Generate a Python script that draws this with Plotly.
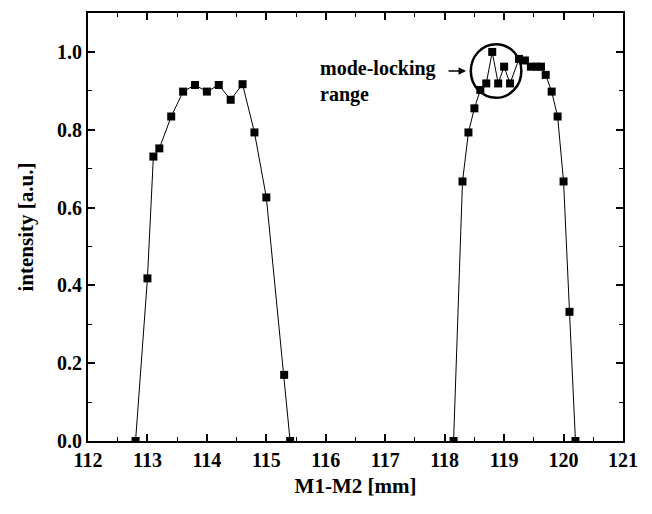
import plotly.graph_objects as go

# Left peak
x_left = [112.8, 113.0, 113.1, 113.2, 113.4, 113.6, 113.8, 114.0, 114.2, 114.4,
          114.6, 114.8, 115.0, 115.3, 115.4]
y_left = [0.0, 0.418, 0.731, 0.752, 0.834, 0.898, 0.915, 0.898, 0.915, 0.877,
          0.917, 0.793, 0.626, 0.170, 0.0]

# Right peak
x_right = [118.15, 118.3, 118.4, 118.5, 118.6, 118.7, 118.8, 118.9, 119.0, 119.1,
           119.25, 119.35, 119.45, 119.55, 119.62, 119.7, 119.8, 119.9, 120.0,
           120.1, 120.2]
y_right = [0.0, 0.667, 0.793, 0.855, 0.902, 0.919, 1.0, 0.919, 0.962, 0.919,
           0.982, 0.978, 0.962, 0.962, 0.962, 0.941, 0.898, 0.834, 0.667,
           0.332, 0.0]

x_ticks = list(range(112, 122))
y_ticks = [0.0, 0.2, 0.4, 0.6, 0.8, 1.0]

FONT = "Liberation Serif"

fig = go.Figure()
for xs, ys in [(x_left, y_left), (x_right, y_right)]:
    fig.add_trace(go.Scatter(
        x=xs, y=ys, mode="lines+markers",
        line=dict(color="black", width=1),
        marker=dict(symbol="square", size=8, color="black"),
        showlegend=False, hoverinfo="skip"))

fig.add_shape(type="circle", xref="x", yref="y",
              x0=118.44, x1=119.29, y0=0.882, y1=1.02,
              line=dict(color="black", width=2.5))

fig.add_annotation(x=115.87, y=0.925, xref="x", yref="y",
                   text="<b>mode-locking</b><br><b>range</b>",
                   showarrow=False, xanchor="left", yanchor="middle", align="left",
                   font=dict(family=FONT, size=20, color="black"))
fig.add_annotation(x=118.36, y=0.951, xref="x", yref="y",
                   ax=-19, ay=0, axref="pixel", ayref="pixel",
                   text="", showarrow=True, arrowhead=2, arrowsize=1,
                   arrowwidth=1.5, arrowcolor="black")

axis_common = dict(
    showline=True, linewidth=2, linecolor="black", mirror="allticks",
    ticks="inside", ticklen=7, tickwidth=1.5, tickcolor="black",
    showgrid=False, zeroline=False,
    tickfont=dict(family=FONT, size=20, color="black"),
)

fig.update_xaxes(
    range=[112, 121], tickvals=x_ticks, ticktext=[f"<b>{v}</b>" for v in x_ticks],
    minor=dict(ticks="inside", ticklen=4, tickwidth=1.2, dtick=0.5, tickcolor="black", showgrid=False),
    title=dict(text="<b>M1-M2 [mm]</b>", font=dict(family=FONT, size=21, color="black"), standoff=8),
    **axis_common)
fig.update_yaxes(
    range=[0, 1.1], tickvals=y_ticks, ticktext=[f"<b>{v:.1f}</b>" for v in y_ticks],
    minor=dict(ticks="inside", ticklen=4, tickwidth=1.2, dtick=0.1, tickcolor="black", showgrid=False),
    title=dict(text="<b>intensity [a.u.]</b>", font=dict(family=FONT, size=21, color="black"), standoff=18),
    **axis_common)

fig.update_layout(
    width=652, height=514,
    margin=dict(l=88, r=29, t=13, b=73),
    paper_bgcolor="white", plot_bgcolor="white",
    font=dict(family=FONT, color="black"),
)

fig.write_html("out.html")
